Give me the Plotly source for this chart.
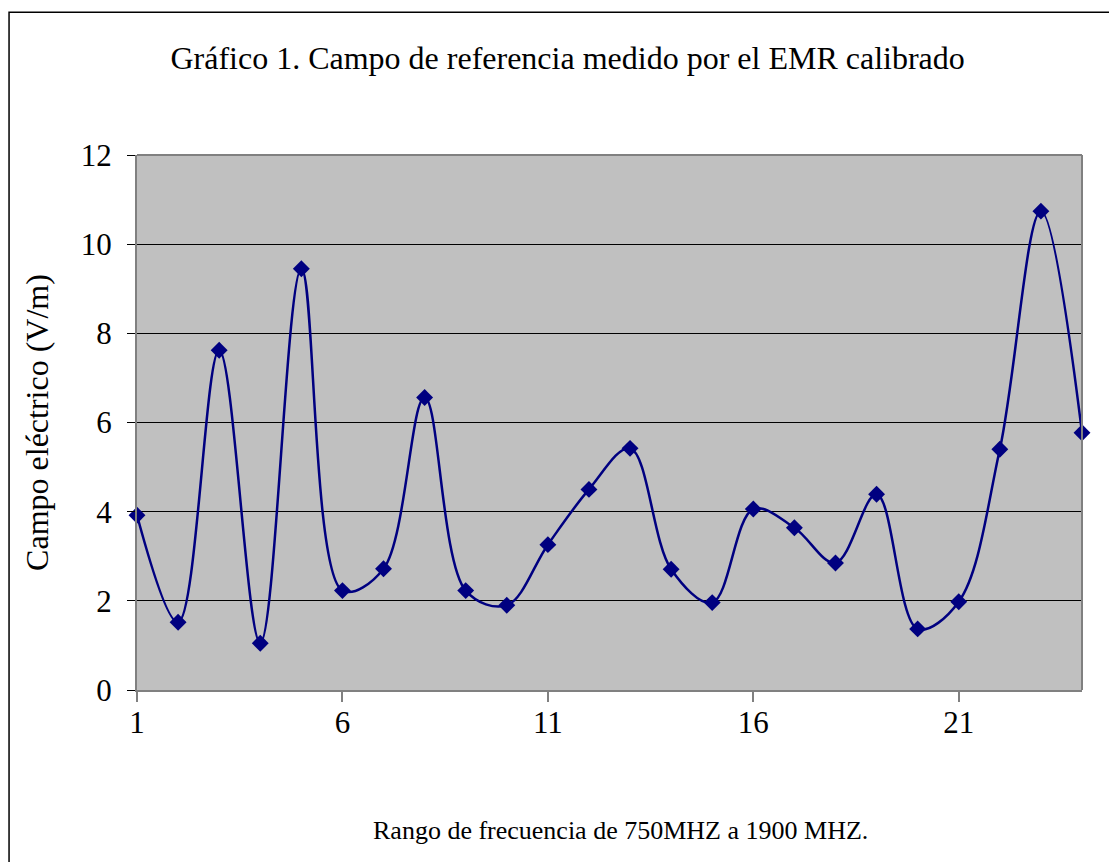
import plotly.graph_objects as go

# datos
frecuencia = list(range(1, 25))
campo = [3.92, 1.52, 7.62, 1.05, 9.45, 2.23, 2.72, 6.56, 2.23, 1.9,
         3.26, 4.5, 5.42, 2.71, 1.96, 4.06, 3.64, 2.85, 4.39, 1.37,
         1.98, 5.4, 10.74, 5.77]
y_ticks = [0, 2, 4, 6, 8, 10, 12]
x_ticks = [1, 6, 11, 16, 21]

serif = "Liberation Serif, Times New Roman, serif"

fig = go.Figure()
fig.add_trace(go.Scatter(
    x=frecuencia, y=campo, mode="lines+markers",
    line=dict(color="#000080", width=2.5, shape="spline", smoothing=1.0),
    marker=dict(symbol="diamond", size=13, color="#000080"),
    showlegend=False, cliponaxis=False,
))

fig.update_layout(
    width=1117, height=862,
    margin=dict(l=129, r=43, t=147, b=180),
    paper_bgcolor="white",
    plot_bgcolor="#C0C0C0",
    font=dict(family=serif, color="black"),
    title=dict(text="Gráfico 1. Campo de referencia medido por el EMR calibrado",
               x=0.501, xanchor="center", y=0.942, yanchor="middle",
               font=dict(size=32, family=serif)),
    shapes=[
        # marco exterior del grafico
        dict(type="rect", xref="paper", yref="paper",
             x0=-0.1354, x1=1.2, y0=-0.5, y1=1.267,
             line=dict(color="black", width=1.5), layer="below"),
        dict(type="line", xref="paper", yref="paper", x0=0, x1=1, y0=1, y1=1,
             line=dict(color="#808080", width=2)),
        dict(type="line", xref="paper", yref="paper", x0=1, x1=1, y0=0, y1=1,
             line=dict(color="#808080", width=2)),
    ],
    annotations=[
        dict(text="Rango de frecuencia de 750MHZ a 1900 MHZ.",
             xref="paper", yref="paper", x=0.512, y=-0.262,
             xanchor="center", yanchor="middle", showarrow=False,
             font=dict(size=26, family=serif)),
    ],
)

fig.update_xaxes(
    range=[1, 24], tickvals=x_ticks, showgrid=False, zeroline=False,
    showline=True, linecolor="#808080", linewidth=2,
    ticks="outside", ticklen=10, tickcolor="#808080", tickwidth=1.5,
    tickfont=dict(size=31, family=serif), ticklabelstandoff=-6,
)
fig.update_yaxes(
    range=[0, 12], tickvals=y_ticks, showgrid=True, gridcolor="black",
    gridwidth=1, zeroline=False,
    showline=True, linecolor="#808080", linewidth=2,
    ticks="outside", ticklen=8, tickcolor="black", tickwidth=1,
    tickfont=dict(size=31, family=serif), ticklabelstandoff=9,
    title=dict(text="Campo eléctrico (V/m)", font=dict(size=32, family=serif),
               standoff=23),
)

fig.write_html("out.html")
